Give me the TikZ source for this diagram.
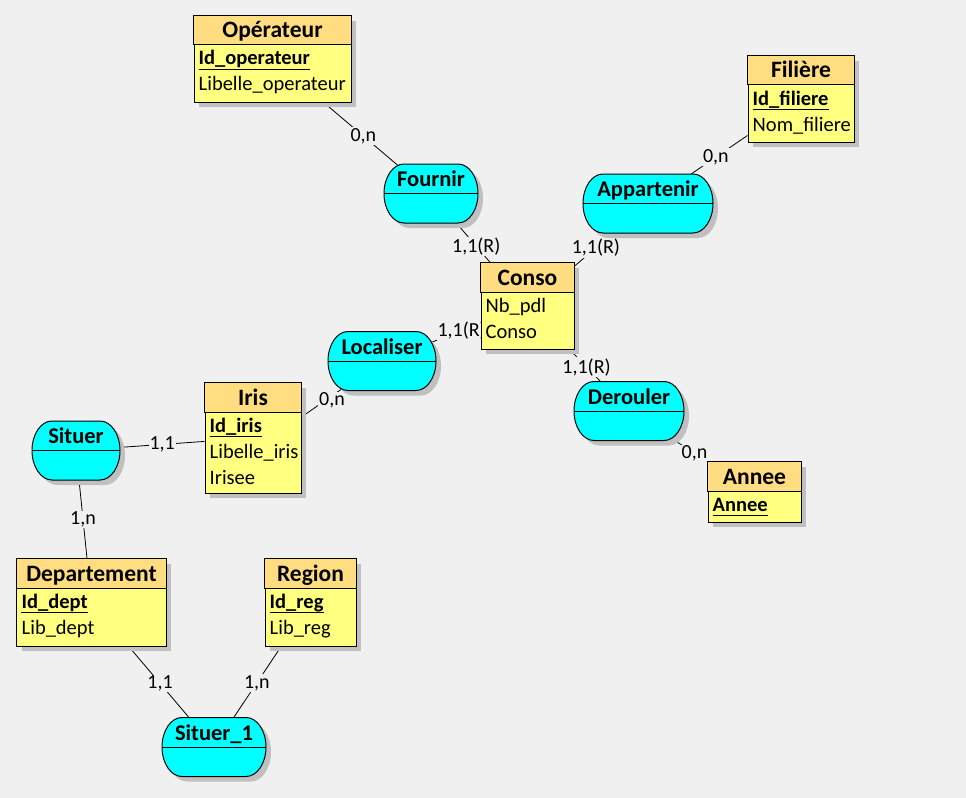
\documentclass[tikz,border=0pt]{standalone}
\usepackage{fontspec}
\setmainfont{Carlito}
\usetikzlibrary{shapes.geometric,shadows}
\pgfdeclarelayer{liens}
\pgfsetlayers{liens,main}

\definecolor{couleurFond}{RGB}{240,240,240}
\definecolor{couleurEntete}{RGB}{255,221,128}
\definecolor{couleurCorps}{RGB}{255,255,128}
\definecolor{couleurAssoc}{RGB}{0,255,255}
\definecolor{couleurOmbre}{RGB}{192,192,192}

% entite : nom, x, y, largeur, hauteur, titre
\newcommand{\entite}[6]{%
  \node[entite,minimum width=#4bp,minimum height=#5bp] (#1) at (#2,#3) {};
  \draw[entete] (#1.north west) rectangle ([yshift=-29.5bp]#1.north east);
  \node[titre] at ([yshift=-22.5bp]#1.north) {#6};
}

% association : nom, x, y, largeur, titre
\newcommand{\association}[5]{%
  \pgfmathsetmacro\demiplat{#4/2-20}%
  \node[ancre assoc,minimum width=#4bp] (#1) at (#2,#3) {};
  \draw[forme assoc] (#2-\demiplat,#3+29.5) -- (#2+\demiplat,#3+29.5)
    arc[start angle=90,end angle=-90,x radius=20,y radius=29.5]
    -- (#2-\demiplat,#3-29.5)
    arc[start angle=270,end angle=90,x radius=20,y radius=29.5] -- cycle;
  \draw[trait] (#2-#4/2,#3) -- (#2+#4/2,#3);
  \node[nom assoc] at (#2,#3+7) {#5};
}

\begin{document}
\begin{tikzpicture}[x=1bp,y=1bp,
    trait/.style={line width=1bp},
    ombrage/.style={drop shadow={shadow xshift=5bp,shadow yshift=-5bp,fill=couleurOmbre,opacity=1}},
    entite/.style={draw,trait,fill=couleurCorps,ombrage,inner sep=0pt},
    entete/.style={draw,trait,fill=couleurEntete},
    titre/.style={anchor=base,inner sep=0pt,font=\fontsize{23.5bp}{26bp}\selectfont\bfseries},
    attribut/.style={anchor=base west,inner sep=0pt,font=\fontsize{20.5bp}{24bp}\selectfont},
    cle/.style={attribut,font=\fontsize{20.5bp}{24bp}\selectfont\bfseries,
      append after command={([yshift=-4.5bp]\tikzlastnode.base west) edge[trait] ([yshift=-4.5bp]\tikzlastnode.base east)}},
    ancre assoc/.style={ellipse,minimum height=59bp,inner sep=0pt},
    forme assoc/.style={trait,fill=couleurAssoc,ombrage},
    nom assoc/.style={anchor=base,inner sep=0pt,font=\fontsize{22.5bp}{25bp}\selectfont\bfseries},
    lien/.style={line width=0.8bp},
    card/.style={fill=couleurFond,inner sep=1bp,font=\fontsize{20bp}{24bp}\selectfont}]

    \useasboundingbox (0,0) rectangle (966,-798);

    % entites
    \entite{operateur}{272.5}{-59}{157}{86}{Opérateur}
    \node[cle] at ([shift={(5,-49.5)}]operateur.north west) {Id\_operateur};
    \node[attribut] at ([shift={(5,-75.5)}]operateur.north west) {Libelle\_operateur};

    \entite{filiere}{801}{-99}{106}{86}{Filière}
    \node[cle] at ([shift={(5,-49.5)}]filiere.north west) {Id\_filiere};
    \node[attribut] at ([shift={(5,-75.5)}]filiere.north west) {Nom\_filiere};

    \entite{conso}{527.5}{-306}{93}{86}{Conso}
    \node[attribut] at ([shift={(5,-49.5)}]conso.north west) {Nb\_pdl};
    \node[attribut] at ([shift={(5,-75.5)}]conso.north west) {Conso};

    \entite{iris}{253}{-438}{96}{110}{Iris}
    \node[cle] at ([shift={(5,-49.5)}]iris.north west) {Id\_iris};
    \node[attribut] at ([shift={(5,-75.5)}]iris.north west) {Libelle\_iris};
    \node[attribut] at ([shift={(5,-101.5)}]iris.north west) {Irisee};

    \entite{annee}{754.5}{-492}{93}{60}{Annee}
    \node[cle] at ([shift={(5,-49.5)}]annee.north west) {Annee};

    \entite{departement}{91.5}{-602.5}{149}{87}{Departement}
    \node[cle] at ([shift={(5,-49.5)}]departement.north west) {Id\_dept};
    \node[attribut] at ([shift={(5,-75.5)}]departement.north west) {Lib\_dept};

    \entite{region}{310.5}{-602.5}{91}{87}{Region}
    \node[cle] at ([shift={(5,-49.5)}]region.north west) {Id\_reg};
    \node[attribut] at ([shift={(5,-75.5)}]region.north west) {Lib\_reg};

    % associations
    \association{fournir}{431}{-193.5}{94}{Fournir}
    \association{appartenir}{648}{-203.5}{130}{Appartenir}
    \association{localiser}{382}{-361}{108}{Localiser}
    \association{derouler}{629}{-411}{110}{Derouler}
    \association{situer}{76}{-450.5}{88}{Situer}
    \association{situerun}{214}{-747}{104}{Situer\_1}

    % liens et cardinalites
    \begin{pgfonlayer}{liens}
        \fill[couleurFond] (0,0) rectangle (966,-798);
        \draw[lien] (operateur) -- node[card] {0,n} (fournir);
        \draw[lien] (fournir) -- node[card,pos=.62] {1,1(R)} (conso);
        \draw[lien] (appartenir) -- node[card] {1,1(R)} (conso);
        \draw[lien] (appartenir) -- node[card] {0,n} (filiere);
        \draw[lien] (localiser) -- node[card,pos=.65] {1,1(R)} (conso);
        \draw[lien] (localiser) -- node[card,pos=.35,yshift=-5bp] {0,n} ([yshift=21bp]iris.east);
        \draw[lien] (conso) -- node[card] {1,1(R)} (derouler);
        \draw[lien] (derouler) -- node[card,pos=.7] {0,n} (annee);
        \draw[lien] (situer) -- node[card] {1,1} (iris);
        \draw[lien] (situer) -- node[card] {1,n} (departement);
        \draw[lien] (departement) -- node[card] {1,1} (situerun);
        \draw[lien] (region) -- node[card] {1,n} (situerun);
    \end{pgfonlayer}
\end{tikzpicture}
\end{document}
